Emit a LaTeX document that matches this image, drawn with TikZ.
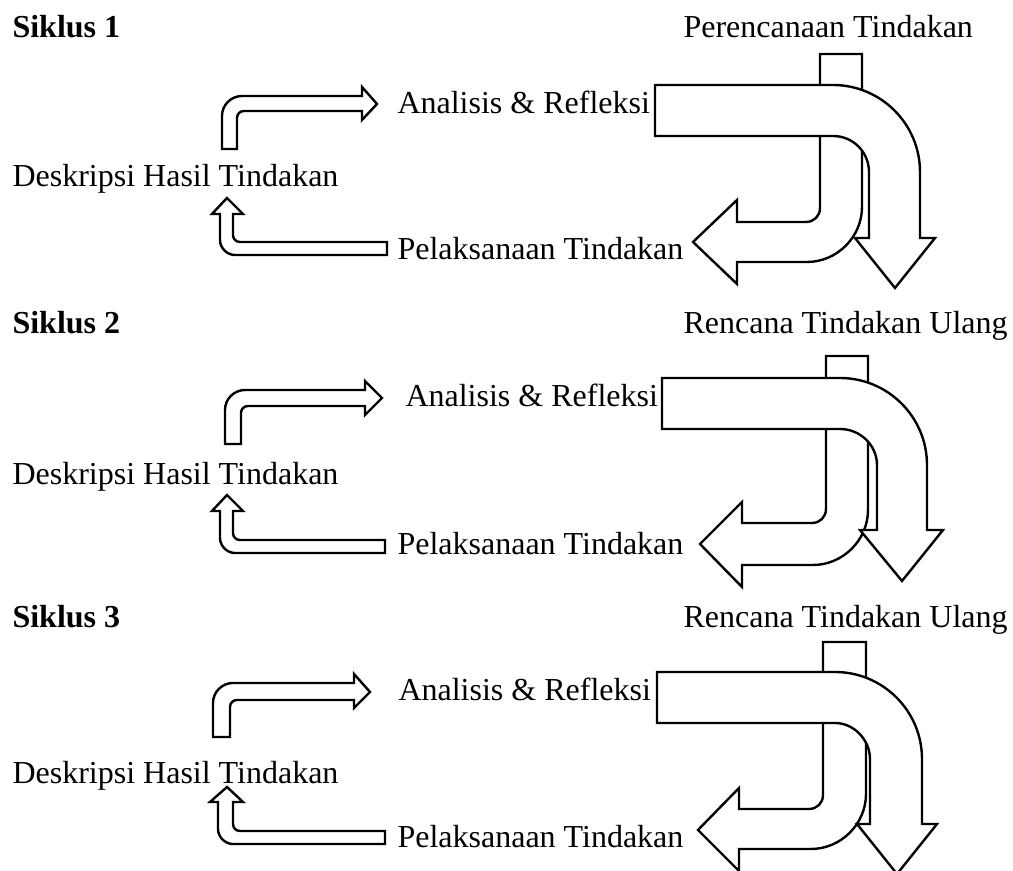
\documentclass[tikz,border=0pt]{standalone}
\usepackage{fontspec}
\setmainfont{Liberation Serif}
\usepackage{tikz}

\tikzset{
  blok/.style={draw=black,fill=white,line width=0.9pt,line join=miter},
  teks/.style={anchor=base west,inner sep=0pt,font=\fontsize{12}{14}\selectfont},
  judul/.style={teks,font=\fontsize{12}{14}\selectfont\bfseries}
}

\begin{document}
\begin{tikzpicture}[x=0.375pt,y=-0.375pt]

\useasboundingbox (0,0) rectangle (1013,871) ;

\node[judul] (sik1) at (12,38) {Siklus 1} ;
\node[teks] (ren1) at (683,38) {Perencanaan Tindakan} ;
\node[teks] (ana1) at (397,114) {Analisis \& Refleksi} ;
\node[teks] (des1) at (12,187) {Deskripsi Hasil Tindakan} ;
\node[teks] (pel1) at (397,260) {Pelaksanaan Tindakan} ;

\draw[blok] (222,149) -- (222,116) .. controls (222,105) and (231,96) .. (242,96) -- (362,96) -- (362,87) -- (377,104) -- (362,120) -- (362,111) -- (244,111) .. controls (240,111) and (237,114) .. (237,118) -- (237,149) -- cycle ;
\draw[blok] (387,242) -- (240,242) .. controls (236,242) and (233,239) .. (233,235) -- (233,214) -- (243,214) -- (227,198) -- (212,214) -- (220,214) -- (220,240) .. controls (220,248) and (227,255) .. (235,255) -- (387,255) -- cycle ;
\draw[blok] (820,54) -- (862,54) -- (862,207) .. controls (862,237) and (837,262) .. (807,262) -- (737,262) -- (737,284) -- (693,242) -- (737,200) -- (737,222) -- (806,222) .. controls (814,222) and (820,216) .. (820,208) -- cycle ;
\draw[blok] (655,85) -- (833,85) .. controls (881,85) and (920,124) .. (920,172) -- (920,238) -- (935,238) -- (895,288) -- (855,238) -- (869,238) -- (869,172) .. controls (869,152) and (853,136) .. (833,136) -- (655,136) -- cycle ;

\node[judul] (sik2) at (12,334) {Siklus 2} ;
\node[teks] (ren2) at (683,334) {Rencana Tindakan Ulang} ;
\node[teks] (ana2) at (405,407) {Analisis \& Refleksi} ;
\node[teks] (des2) at (12,485) {Deskripsi Hasil Tindakan} ;
\node[teks] (pel2) at (397,555) {Pelaksanaan Tindakan} ;

\draw[blok] (225,444) -- (225,410) .. controls (225,399) and (234,390) .. (245,390) -- (365,390) -- (365,381) -- (382,398) -- (365,415) -- (365,406) -- (248,406) .. controls (244,406) and (241,409) .. (241,413) -- (241,444) -- cycle ;
\draw[blok] (385,540) -- (240,540) .. controls (236,540) and (233,537) .. (233,533) -- (233,511) -- (243,511) -- (227,495) -- (212,511) -- (220,511) -- (220,538) .. controls (220,546) and (227,553) .. (235,553) -- (385,553) -- cycle ;
\draw[blok] (826,356) -- (868,356) -- (868,510) .. controls (868,540) and (843,565) .. (813,565) -- (742,565) -- (742,587) -- (700,544) -- (742,502) -- (742,523) -- (812,523) .. controls (820,523) and (826,517) .. (826,509) -- cycle ;
\draw[blok] (662,378) -- (840,378) .. controls (888,378) and (927,417) .. (927,465) -- (927,530) -- (943,530) -- (902,581) -- (860,530) -- (877,530) -- (877,465) .. controls (877,445) and (860,429) .. (840,429) -- (662,429) -- cycle ;

\node[judul] (sik3) at (12,628) {Siklus 3} ;
\node[teks] (ren3) at (683,628) {Rencana Tindakan Ulang} ;
\node[teks] (ana3) at (398,701) {Analisis \& Refleksi} ;
\node[teks] (des3) at (12,784) {Deskripsi Hasil Tindakan} ;
\node[teks] (pel3) at (397,848) {Pelaksanaan Tindakan} ;

\draw[blok] (213,737) -- (213,703) .. controls (213,692) and (222,683) .. (233,683) -- (354,683) -- (354,674) -- (370,692) -- (354,708) -- (354,700) -- (237,700) .. controls (233,700) and (230,703) .. (230,707) -- (230,737) -- cycle ;
\draw[blok] (385,831) -- (240,831) .. controls (236,831) and (233,828) .. (233,824) -- (233,802) -- (243,802) -- (227,787) -- (210,802) -- (218,802) -- (218,829) .. controls (218,837) and (225,844) .. (233,844) -- (385,844) -- cycle ;
\draw[blok] (823,642) -- (866,642) -- (866,794) .. controls (866,824) and (841,849) .. (811,849) -- (739,849) -- (739,871) -- (698,830) -- (739,788) -- (739,809) -- (809,809) .. controls (817,809) and (823,803) .. (823,795) -- cycle ;
\draw[blok] (657,672) -- (835,672) .. controls (883,672) and (922,711) .. (922,759) -- (922,824) -- (937,824) -- (897,874) -- (857,824) -- (870,824) -- (870,759) .. controls (870,740) and (854,723) .. (835,723) -- (657,723) -- cycle ;

\end{tikzpicture}
\end{document}
